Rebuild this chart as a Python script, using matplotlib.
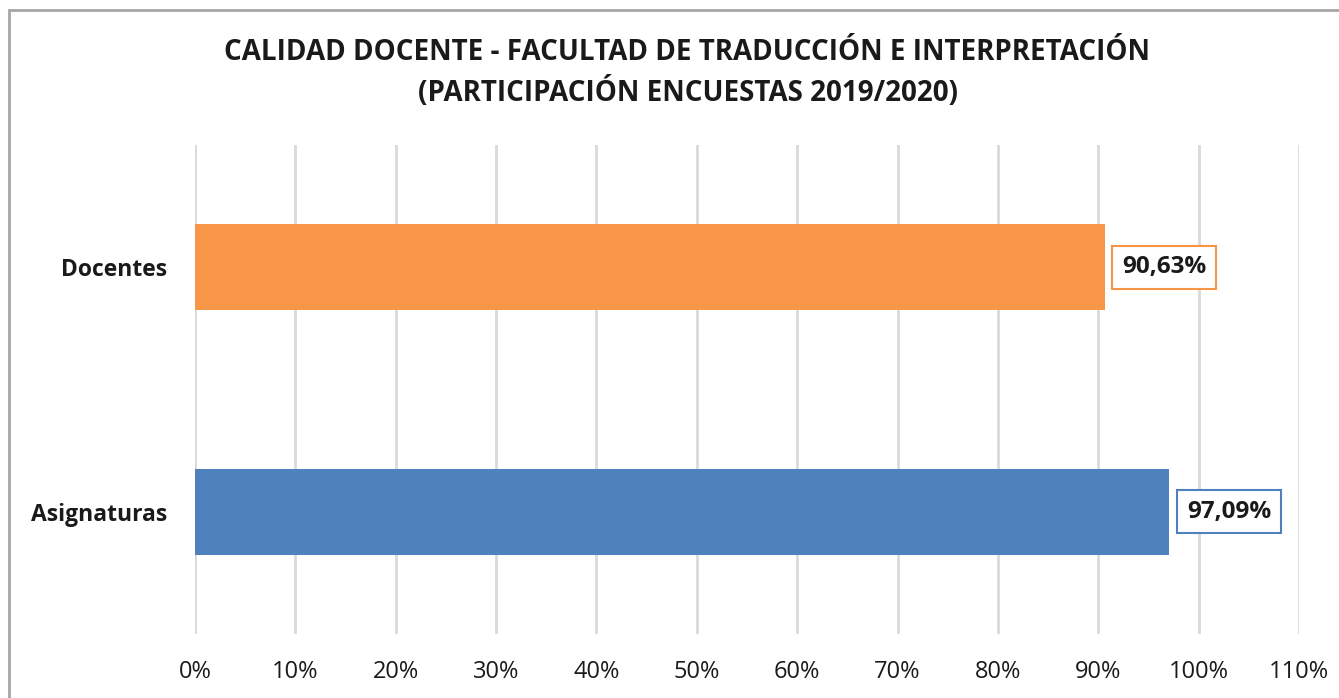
import matplotlib.pyplot as plt
from matplotlib.patches import Rectangle

categories = ["Docentes", "Asignaturas"]
values = [90.63, 97.09]
colors = ["#F79646", "#4F81BD"]
label_texts = ["90,63%", "97,09%"]
x_ticks = list(range(0, 111, 10))

plt.rcParams["font.family"] = ["Open Sans", "DejaVu Sans"]

W, H = 1339, 698
fig = plt.figure(figsize=(W / 100, H / 100), dpi=100)
ax = fig.add_axes([195 / W, 1 - 634 / H, (1299 - 195) / W, (634 - 145) / H])

ypos = list(range(len(categories)))
ax.barh(ypos, values, height=0.35, color=colors, zorder=3)
ax.set_ylim(1.5, -0.5)
ax.set_xlim(0, 110)

ax.set_xticks(x_ticks)
ax.set_xticklabels([f"{t}%" for t in x_ticks], fontsize=17, color="#1a1a1a")
ax.set_yticks(ypos)
ax.set_yticklabels(categories, fontsize=16.5, fontweight="bold", color="#1a1a1a")
ax.tick_params(axis="both", length=0)
ax.tick_params(axis="x", pad=19)
ax.tick_params(axis="y", pad=20)

ax.grid(axis="x", color="#D9D9D9", linewidth=2, zorder=0)
for s in ax.spines.values():
    s.set_visible(False)

for y, v, txt, c in zip(ypos, values, label_texts, colors):
    ax.annotate(txt, (v, y), xytext=(12.5, 0), textcoords="offset points",
                va="center", ha="left", fontsize=17.5, fontweight="bold", color="#1a1a1a",
                bbox=dict(boxstyle="square,pad=0.4", fc="white", ec=c, lw=1.5), zorder=4)

fig.text(0.5 * (228 + 1147) / W, 1 - 73 / H,
         "CALIDAD DOCENTE - FACULTAD DE TRADUCCIÓN E INTERPRETACIÓN\n(PARTICIPACIÓN ENCUESTAS 2019/2020)",
         ha="center", va="center", fontsize=20, fontweight="bold", color="#1a1a1a", linespacing=1.45)

fig.patches.append(Rectangle((9 / W, -0.1), 1.2, 1.1 - 10 / H, transform=fig.transFigure,
                             fill=False, ec="#A6A6A6", lw=2))

fig.savefig("out.png", dpi=100)
